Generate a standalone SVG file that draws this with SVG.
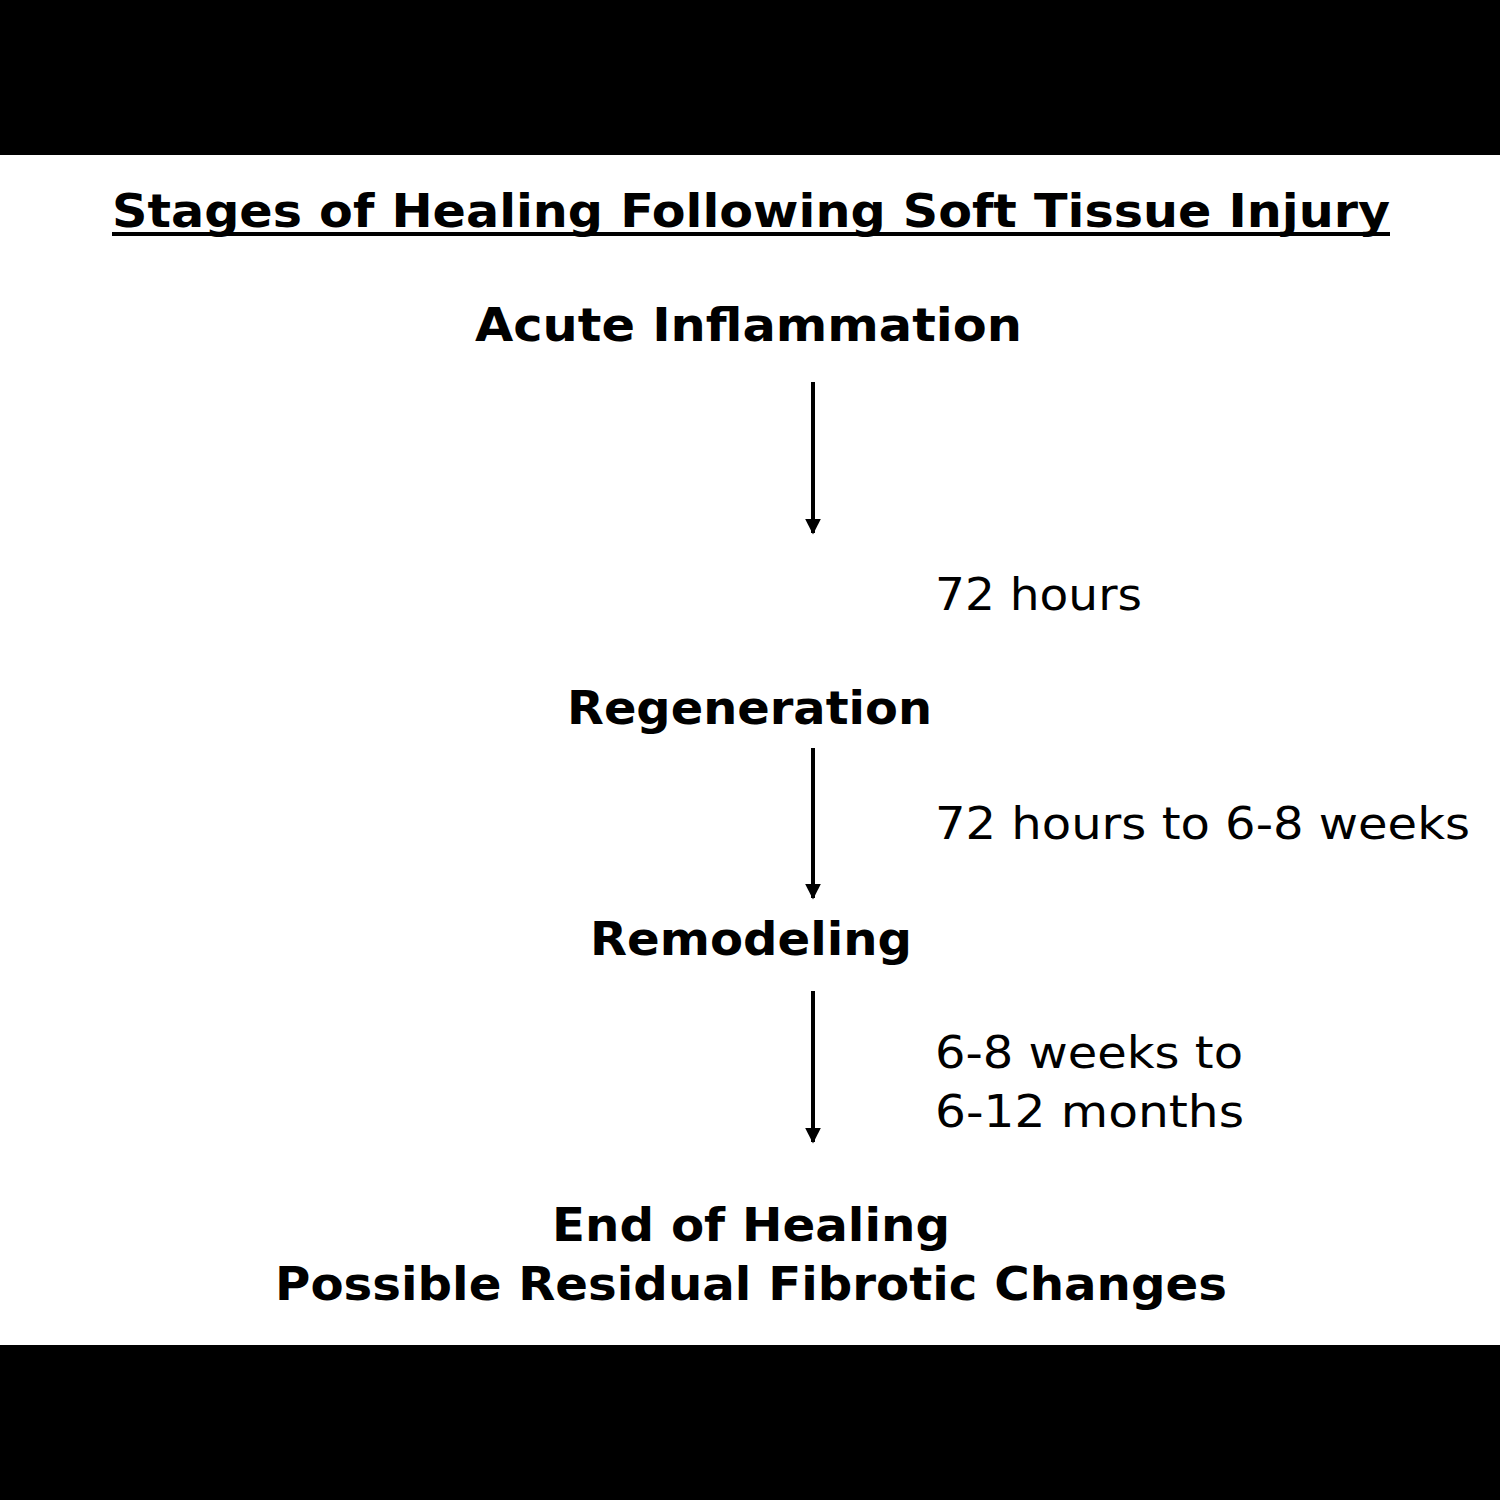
<svg xmlns="http://www.w3.org/2000/svg" width="1500" height="1500" viewBox="0 0 1500 1500">
<defs>
<style>
.b{font-family:"DejaVu Sans","Liberation Sans",sans-serif;font-weight:bold;font-size:46px;fill:#000}
.r{font-family:"DejaVu Sans","Liberation Sans",sans-serif;font-size:44px;fill:#000}
.c{stroke:#000;stroke-width:4;fill:none}
</style>
<marker id="a" viewBox="0 0 10 10" refX="9" refY="5" markerWidth="4" markerHeight="5" orient="auto" markerUnits="strokeWidth"><path d="M0,0 L10,5 L0,10 z" fill="#000"/></marker>
</defs>
<rect width="1500" height="1500" fill="#fff"/>
<rect width="1500" height="155" fill="#000"/>
<rect y="1345" width="1500" height="155" fill="#000"/>
<g id="title">
<text class="b" x="112" y="227" textLength="1278" lengthAdjust="spacingAndGlyphs">Stages of Healing Following Soft Tissue Injury</text>
<line x1="112" y1="234" x2="1390" y2="234" stroke="#000" stroke-width="4"/>
</g>
<g id="n1"><text class="b" x="475" y="341" textLength="547" lengthAdjust="spacingAndGlyphs">Acute Inflammation</text></g>
<g id="n2"><text class="b" x="567" y="724" textLength="365" lengthAdjust="spacingAndGlyphs">Regeneration</text></g>
<g id="n3"><text class="b" x="590" y="955" textLength="322" lengthAdjust="spacingAndGlyphs">Remodeling</text></g>
<g id="n4">
<text class="b" x="552" y="1241" textLength="398" lengthAdjust="spacingAndGlyphs">End of Healing</text>
<text class="b" x="275" y="1300" textLength="952" lengthAdjust="spacingAndGlyphs">Possible Residual Fibrotic Changes</text>
</g>
<g id="connectors">
<line class="c" x1="813" y1="382" x2="813" y2="533" marker-end="url(#a)"/>
<line class="c" x1="813" y1="748" x2="813" y2="898" marker-end="url(#a)"/>
<line class="c" x1="813" y1="991" x2="813" y2="1142" marker-end="url(#a)"/>
<text class="r" x="935" y="610" textLength="207" lengthAdjust="spacingAndGlyphs">72 hours</text>
<text class="r" x="935" y="839" textLength="535" lengthAdjust="spacingAndGlyphs">72 hours to 6-8 weeks</text>
<text class="r" x="935" y="1068" textLength="308" lengthAdjust="spacingAndGlyphs">6-8 weeks to</text>
<text class="r" x="935" y="1127" textLength="309" lengthAdjust="spacingAndGlyphs">6-12 months</text>
</g>
</svg>
